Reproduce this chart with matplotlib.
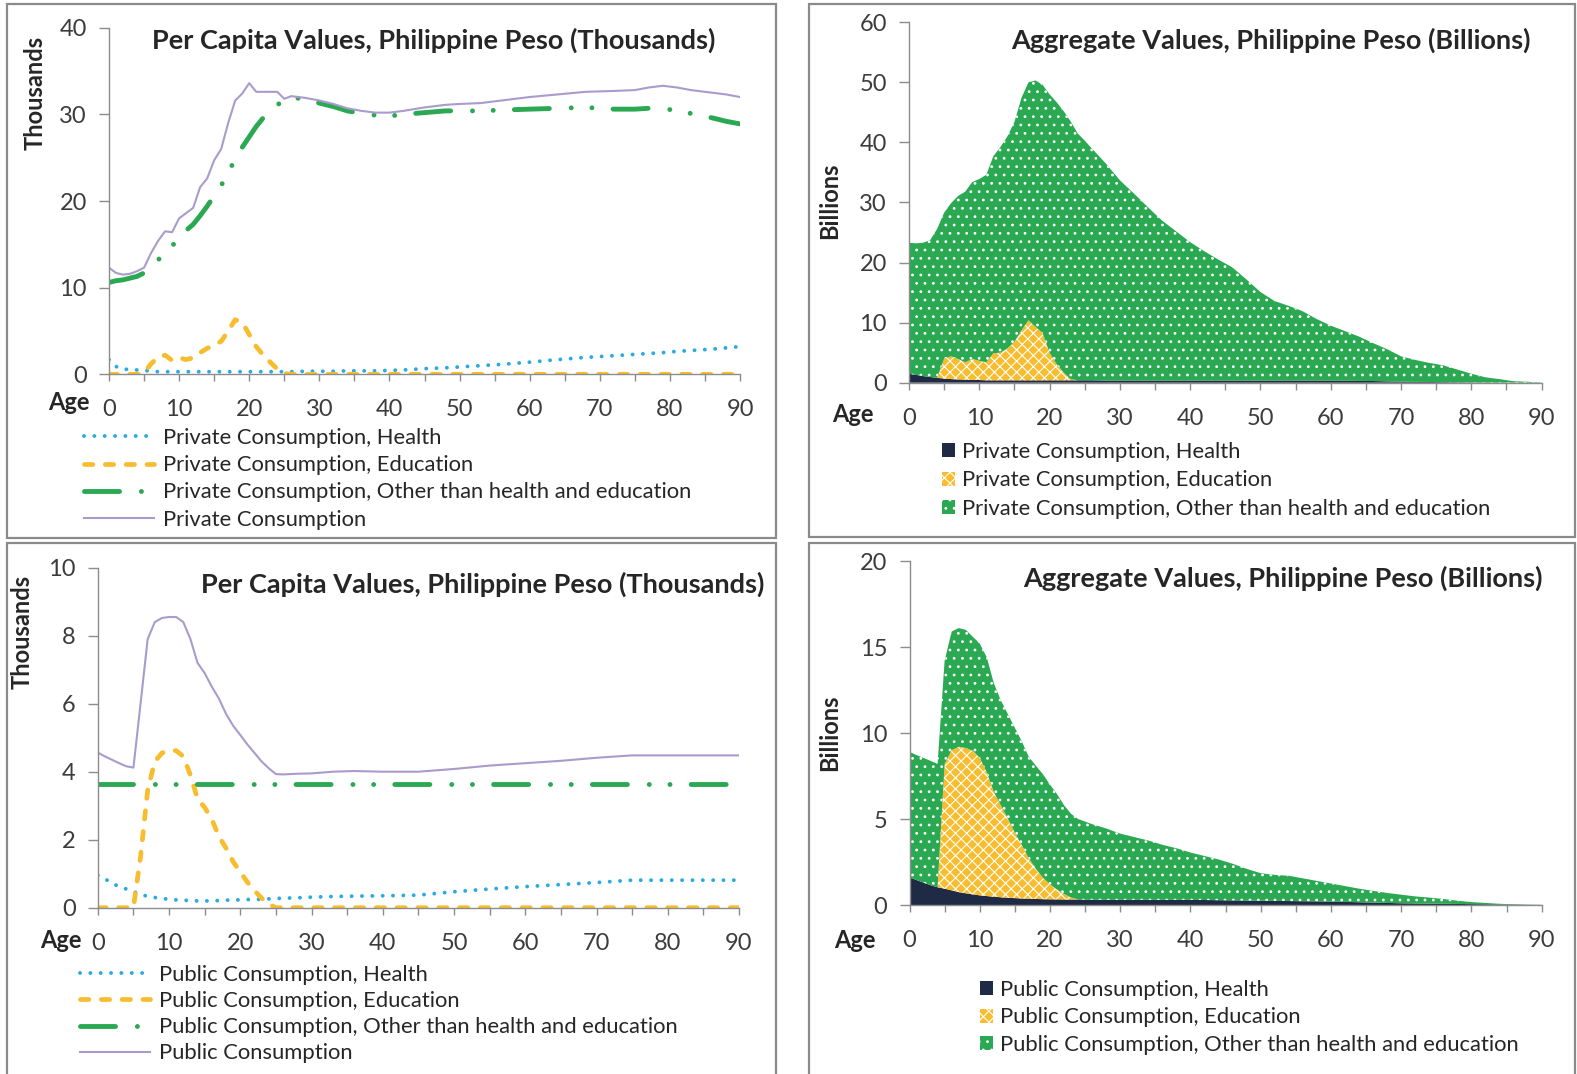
import numpy as np
import matplotlib
matplotlib.use('Agg')
from matplotlib import pyplot as plt
from matplotlib.patches import Rectangle

plt.rcParams['font.family'] = ['Lato', 'DejaVu Sans']
plt.rcParams['hatch.color'] = 'white'
plt.rcParams['hatch.linewidth'] = 0.8

# ---- per capita, private (thousands of pesos) ----
pc_age_priv = [0, 1, 2, 3, 4, 5, 6, 7, 8, 9, 10, 11, 12, 13, 14, 15, 16, 17, 18, 19, 20,
               21, 22, 23, 24, 25, 26, 28, 30, 32, 34, 36, 38, 40, 42, 45, 48, 50, 53, 56,
               60, 64, 68, 72, 75, 77, 79, 81, 83, 86, 88, 90]
priv_health = [1.7, 0.9, 0.6, 0.55, 0.5, 0.45, 0.35, 0.3, 0.3, 0.3, 0.3, 0.3, 0.3, 0.3, 0.3,
               0.3, 0.3, 0.3, 0.3, 0.3, 0.3, 0.3, 0.3, 0.3, 0.3, 0.3, 0.3, 0.35, 0.35, 0.35,
               0.4, 0.4, 0.4, 0.45, 0.5, 0.65, 0.75, 0.85, 1.0, 1.15, 1.4, 1.7, 1.95, 2.15,
               2.3, 2.4, 2.5, 2.65, 2.75, 2.9, 3.05, 3.2]
priv_edu = [0, 0, 0, 0, 0, 0.2, 1.2, 2.0, 2.2, 1.6, 1.9, 1.7, 1.9, 2.5, 3.0, 3.4, 3.8, 5.0,
            6.3, 6.0, 4.6, 3.2, 2.2, 1.4, 0.6, 0.1, 0, 0, 0, 0, 0, 0, 0, 0, 0, 0, 0, 0, 0,
            0, 0, 0, 0, 0, 0, 0, 0, 0, 0, 0, 0, 0]
priv_other = [10.6, 10.8, 10.9, 11.1, 11.3, 11.7, 12.5, 13.2, 14.0, 14.8, 15.8, 16.6, 17.3,
              18.3, 19.4, 20.6, 21.8, 23.2, 24.9, 26.2, 27.4, 28.6, 29.6, 30.4, 31.1, 31.6,
              31.9, 31.8, 31.3, 30.9, 30.4, 30.1, 29.9, 29.8, 30.0, 30.2, 30.4, 30.4, 30.4,
              30.5, 30.6, 30.7, 30.8, 30.6, 30.6, 30.7, 30.7, 30.4, 30.1, 29.6, 29.2, 28.9]
priv_total = [12.3, 11.7, 11.5, 11.6, 11.9, 12.3, 14.0, 15.4, 16.5, 16.4, 18.0, 18.6, 19.2,
              21.6, 22.6, 24.7, 26.0, 29.0, 31.6, 32.4, 33.6, 32.6, 32.6, 32.6, 32.6, 31.8,
              32.1, 31.9, 31.6, 31.2, 30.7, 30.4, 30.2, 30.2, 30.4, 30.8, 31.1, 31.2, 31.3,
              31.6, 32.0, 32.3, 32.6, 32.7, 32.8, 33.1, 33.3, 33.1, 32.8, 32.5, 32.3, 32.0]

# ---- per capita, public (thousands of pesos) ----
pc_age_pub = [0, 1, 2, 3, 4, 5, 6, 7, 8, 9, 10, 11, 12, 13, 14, 15, 16, 17, 18, 19, 20,
              21, 22, 23, 24, 25, 26, 28, 30, 33, 36, 40, 45, 50, 55, 60, 65, 70, 75, 80,
              85, 90]
pub_health = [0.95, 0.85, 0.72, 0.62, 0.55, 0.47, 0.4, 0.33, 0.3, 0.27, 0.25, 0.23, 0.22,
              0.21, 0.2, 0.2, 0.2, 0.21, 0.22, 0.23, 0.23, 0.24, 0.24, 0.25, 0.26, 0.27,
              0.28, 0.29, 0.31, 0.33, 0.34, 0.35, 0.37, 0.47, 0.55, 0.62, 0.68, 0.74, 0.81,
              0.81, 0.81, 0.81]
pub_edu = [0, 0, 0, 0, 0, 0, 1.5, 3.46, 4.3, 4.55, 4.62, 4.62, 4.45, 3.9, 3.2, 2.95, 2.6,
           2.1, 1.75, 1.35, 1.05, 0.75, 0.5, 0.28, 0.1, 0, 0, 0, 0, 0, 0, 0, 0, 0, 0, 0, 0,
           0, 0, 0, 0, 0]
pub_other = [3.65] * 42
pub_total = [4.56, 4.45, 4.35, 4.25, 4.16, 4.12, 6.0, 7.9, 8.4, 8.52, 8.55, 8.55, 8.4, 7.9,
             7.2, 6.9, 6.5, 6.15, 5.7, 5.35, 5.08, 4.8, 4.55, 4.3, 4.1, 3.93, 3.92, 3.94,
             3.95, 4.0, 4.02, 4.0, 4.0, 4.08, 4.18, 4.25, 4.32, 4.41, 4.48, 4.48, 4.48, 4.48]

# ---- aggregates (billions of pesos) ----
agg_age = [0, 1, 2, 3, 4, 5, 6, 7, 8, 9, 10, 11, 12, 13, 14, 15, 16, 17, 18, 19, 20, 21,
           22, 23, 24, 25, 26, 28, 30, 32, 34, 36, 38, 40, 42, 44, 46, 48, 50, 52, 54, 56,
           58, 60, 62, 64, 66, 68, 70, 72, 74, 76, 78, 80, 82, 84, 86, 88, 90]
priv_agg_health = [1.5, 1.3, 1.1, 0.95, 0.8, 0.7, 0.6, 0.55, 0.5, 0.45, 0.45, 0.4, 0.4, 0.4,
                   0.4, 0.4, 0.4, 0.4, 0.4, 0.4, 0.4, 0.4, 0.4, 0.4, 0.4, 0.4, 0.4, 0.35,
                   0.35, 0.35, 0.35, 0.35, 0.35, 0.35, 0.35, 0.35, 0.35, 0.35, 0.35, 0.35,
                   0.35, 0.35, 0.35, 0.35, 0.33, 0.3, 0.28, 0.22, 0.17, 0.14, 0.12, 0.1,
                   0.08, 0.06, 0.05, 0.03, 0.02, 0.01, 0.0]
priv_agg_edu = [0, 0, 0, 0, 0, 3.3, 3.8, 3.4, 2.9, 3.5, 3.2, 3.0, 4.5, 4.6, 5.3, 6.4, 8.3,
                10.0, 8.9, 7.9, 4.6, 2.7, 1.3, 0.2, 0, 0, 0, 0, 0, 0, 0, 0, 0, 0, 0, 0, 0,
                0, 0, 0, 0, 0, 0, 0, 0, 0, 0, 0, 0, 0, 0, 0, 0, 0, 0, 0, 0, 0, 0]
priv_agg_total = [23.3, 23.2, 23.3, 23.7, 25.6, 28.3, 29.9, 31.1, 31.8, 33.4, 33.9, 34.6,
                  37.7, 39.2, 41.0, 43.4, 47.4, 50.0, 50.3, 49.6, 48.0, 46.7, 45.2, 43.5,
                  41.5, 40.3, 39.0, 36.5, 33.7, 31.5, 29.2, 27.0, 25.2, 23.4, 21.9, 20.5,
                  19.2, 17.2, 15.1, 13.6, 12.8, 11.9, 10.6, 9.5, 8.6, 7.7, 6.6, 5.6, 4.4,
                  3.8, 3.3, 2.9, 2.2, 1.5, 0.9, 0.6, 0.25, 0.15, 0.05]
pub_agg_health = [1.6, 1.45, 1.3, 1.15, 1.03, 0.95, 0.85, 0.75, 0.68, 0.62, 0.56, 0.52,
                  0.48, 0.45, 0.42, 0.4, 0.38, 0.36, 0.35, 0.34, 0.33, 0.33, 0.32, 0.32,
                  0.32, 0.31, 0.31, 0.3, 0.3, 0.3, 0.3, 0.3, 0.3, 0.3, 0.29, 0.28, 0.27,
                  0.26, 0.25, 0.24, 0.23, 0.22, 0.21, 0.2, 0.18, 0.16, 0.14, 0.12, 0.1,
                  0.09, 0.08, 0.07, 0.06, 0.05, 0.04, 0.03, 0.02, 0.01, 0.0]
pub_agg_edu = [0, 0, 0, 0, 0, 7.25, 8.15, 8.45, 8.45, 8.35, 8.0, 7.2, 6.1, 5.35, 4.6, 3.8,
               3.1, 2.35, 1.75, 1.25, 0.87, 0.57, 0.32, 0.12, 0, 0, 0, 0, 0, 0, 0, 0, 0,
               0, 0, 0, 0, 0, 0, 0, 0, 0, 0, 0, 0, 0, 0, 0, 0, 0, 0, 0, 0, 0, 0, 0, 0, 0, 0]
pub_agg_total = [8.9, 8.72, 8.55, 8.38, 8.2, 14.2, 15.9, 16.1, 16.0, 15.6, 15.2, 14.4, 12.9,
                 11.9, 11.1, 10.3, 9.5, 8.6, 8.1, 7.6, 7.0, 6.45, 5.8, 5.3, 5.0, 4.85, 4.7,
                 4.45, 4.15, 3.95, 3.75, 3.5, 3.3, 3.05, 2.85, 2.65, 2.4, 2.1, 1.85, 1.75,
                 1.7, 1.55, 1.4, 1.25, 1.1, 0.95, 0.82, 0.7, 0.6, 0.5, 0.43, 0.35, 0.25,
                 0.17, 0.12, 0.07, 0.04, 0.02, 0.01]

priv_labels = ['Private Consumption, Health', 'Private Consumption, Education',
               'Private Consumption, Other than health and education', 'Private Consumption']
pub_labels = ['Public Consumption, Health', 'Public Consumption, Education',
              'Public Consumption, Other than health and education', 'Public Consumption']
title_pc = 'Per Capita Values, Philippine Peso (Thousands)'
title_agg = 'Aggregate Values, Philippine Peso (Billions)'

BLUE = '#29aae1'
YELLOW = '#f8bd2e'
GREEN = '#2aa852'
PURPLE = '#a99bcc'
NAVY = '#1f2a44'
GREY = '#8c8c8c'
TXT = '#3c3c3c'
DARK = '#262626'

W, H = 1577, 1074
fig = plt.figure(figsize=(W / 100, H / 100), dpi=100)


def add_ax(left, right, top, bottom):
    return fig.add_axes([left / W, 1 - bottom / H, (right - left) / W, (bottom - top) / H])


def style(ax, ymax, ystep):
    for s in ['top', 'right']:
        ax.spines[s].set_visible(False)
    for s in ['left', 'bottom']:
        ax.spines[s].set_color(GREY)
        ax.spines[s].set_linewidth(1.0)
    ax.set_xlim(0, 90)
    ax.set_ylim(0, ymax)
    ax.set_xticks(np.arange(0, 91, 10))
    ax.set_xticks(np.arange(5, 90, 10), minor=True)
    ax.set_yticks(np.arange(0, ymax + 0.01, ystep))
    ax.tick_params(axis='x', which='both', length=5, width=1, color=GREY,
                   labelcolor=TXT, labelsize=17, pad=13)
    ax.tick_params(axis='y', length=7, width=1, color=GREY, labelcolor=TXT,
                   labelsize=17, pad=9)


def boxed(x0, y0, x1, y1):
    fig.add_artist(Rectangle((x0 / W, 1 - y1 / H), (x1 - x0) / W, (y1 - y0) / H,
                             transform=fig.transFigure, fill=False, edgecolor='#8a8a8a',
                             linewidth=1.6))


def ftext(x, y, s, **kw):
    fig.text(x / W, 1 - y / H, s, **kw)


def per_capita(ax, age, health, edu, other, total, labels):
    ax.plot(age, health, color=BLUE, lw=2.8, linestyle=(0, (0.01, 2.65)),
            dash_capstyle='round', label=labels[0])
    ax.plot(age, edu, color=YELLOW, lw=3.4, linestyle=(0, (1.77, 2.64)),
            dash_capstyle='round', label=labels[1])
    ax.plot(age, other, color=GREEN, lw=3.5,
            linestyle=(0, (7.2, 4.5, 0.01, 4.25, 0.01, 4.35)),
            dash_capstyle='round', label=labels[2])
    ax.plot(age, total, color=PURPLE, lw=1.5, label=labels[3])


def aggregate(ax, age, health, edu, total, labels):
    h = np.array(health)
    e = np.array(edu)
    other = np.array(total) - h - e
    ax.fill_between(age, 0, h, facecolor=NAVY, edgecolor='none', lw=0, label=labels[0])
    ax.fill_between(age, h, h + e, facecolor=YELLOW, edgecolor='white', lw=0,
                    hatch='xxx', label=labels[1])
    ax.fill_between(age, h + e, h + e + other, facecolor=GREEN, edgecolor='white', lw=0,
                    hatch='..', label=labels[2])


def line_legend(ax, x, y, spacing):
    fig.legend(*ax.get_legend_handles_labels(), loc='upper left',
               bbox_to_anchor=(x / W, 1 - y / H), frameon=False, fontsize=15.8,
               handlelength=3.2, handletextpad=0.4, labelspacing=spacing, borderpad=0,
               borderaxespad=0, labelcolor=DARK)


def box_legend(ax, x, y, spacing):
    fig.legend(*ax.get_legend_handles_labels(), loc='upper left',
               bbox_to_anchor=(x / W, 1 - y / H), frameon=False, fontsize=15.8,
               handlelength=0.6, handleheight=0.6, handletextpad=0.3, labelspacing=spacing,
               borderpad=0, borderaxespad=0, labelcolor=DARK)


def titles(x_title, y_title, title, x_y, y_y, ylab, x_age, y_age):
    ftext(x_title, y_title, title, ha='right', va='center', fontsize=19.5,
          fontweight='bold', color=DARK)
    ftext(x_y, y_y, ylab, rotation=90, ha='center', va='center', fontsize=17,
          fontweight='bold', color=DARK)
    ftext(x_age, y_age, 'Age', ha='center', va='center', fontsize=17,
          fontweight='bold', color=DARK)


# panel frames
boxed(7, 4, 776, 538)
boxed(809, 4, 1575, 537)
boxed(7, 543, 776, 1080)
boxed(809, 543, 1575, 1080)

# top left: private per capita
ax1 = add_ax(109, 740, 27.7, 374.3)
per_capita(ax1, pc_age_priv, priv_health, priv_edu, priv_other, priv_total, priv_labels)
style(ax1, 40, 10)
titles(715, 40, title_pc, 35, 93, 'Thousands', 69, 402)
line_legend(ax1, 84, 428, 0.33)

# top right: private aggregate
ax2 = add_ax(909, 1541.5, 22.2, 382.7)
aggregate(ax2, agg_age, priv_agg_health, priv_agg_edu, priv_agg_total, priv_labels)
style(ax2, 60, 10)
titles(1531, 40, title_agg, 830, 201, 'Billions', 853, 414)
box_legend(ax2, 942, 442, 0.38)

# bottom left: public per capita
ax3 = add_ax(97.8, 739, 567.7, 907.7)
per_capita(ax3, pc_age_pub, pub_health, pub_edu, pub_other, pub_total, pub_labels)
style(ax3, 10, 2)
titles(764, 584, title_pc, 22, 632, 'Thousands', 61, 941)
line_legend(ax3, 80, 965, 0.28)

# bottom right: public aggregate
ax4 = add_ax(909.5, 1541.7, 561, 905)
aggregate(ax4, agg_age, pub_agg_health, pub_agg_edu, pub_agg_total, pub_labels)
style(ax4, 20, 5)
titles(1543, 578, title_agg, 830, 733, 'Billions', 855, 940)
box_legend(ax4, 980, 980, 0.34)

fig.savefig('out.png', dpi=100)
